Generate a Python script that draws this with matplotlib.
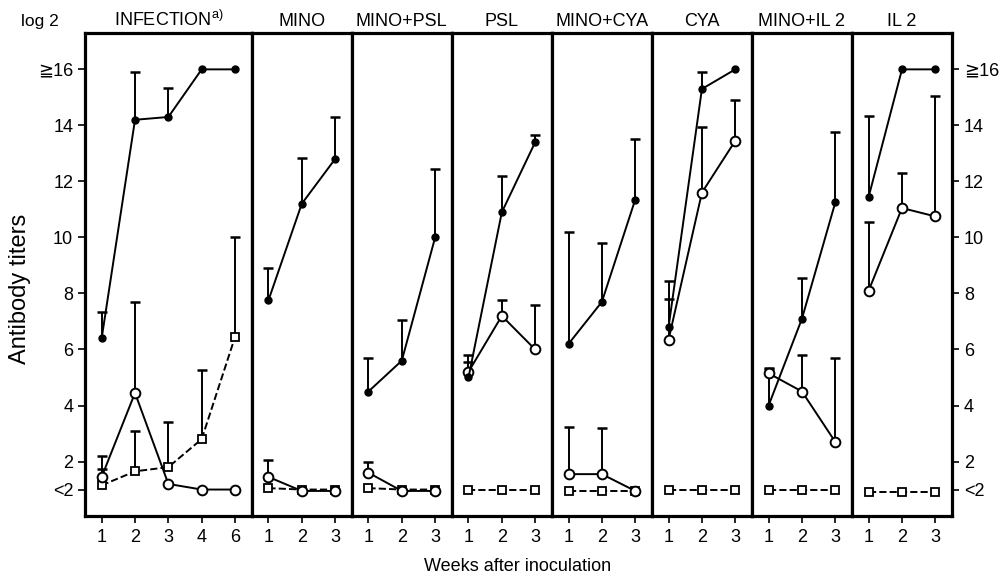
import matplotlib
matplotlib.use('Agg')
import matplotlib.pyplot as plt
import numpy as np

plt.rcParams['font.family'] = ['Liberation Sans', 'DejaVu Sans']
plt.rcParams['mathtext.default'] = 'regular'

nan = np.nan

titles = ['INFECTION$^{a)}$', 'MINO', 'MINO+PSL', 'PSL', 'MINO+CYA', 'CYA', 'MINO+IL 2', 'IL 2']
week_labels = [['1', '2', '3', '4', '6']] + [['1', '2', '3']] * 7

# filled circles
filled = [[6.4, 14.2, 14.3, 16.0, 16.0], [7.75, 11.2, 12.8], [4.5, 5.6, 10.0], [5.0, 10.9, 13.4],
          [6.2, 7.7, 11.35], [6.8, 15.3, 16.0], [4.0, 7.1, 11.25], [11.45, 16.0, 16.0]]
filled_err = [[7.35, 15.9, 15.35, nan, nan], [8.9, 12.85, 14.3], [5.7, 7.05, 12.45], [5.8, 12.2, 13.65],
              [10.2, 9.8, 13.5], [8.45, 15.9, nan], [5.35, 8.55, 13.75], [14.35, nan, nan]]
# open circles
opened = [[1.45, 4.45, 1.2, 1.0, 1.0], [1.45, 0.95, 0.95], [1.6, 0.95, 0.95], [5.2, 7.2, 6.0],
          [1.55, 1.55, 0.95], [6.35, 11.6, 13.45], [5.15, 4.5, 2.7], [8.1, 11.05, 10.75]]
opened_err = [[1.75, 7.7, nan, nan, nan], [2.05, nan, nan], [2.0, nan, nan], [5.55, 7.75, 7.6],
              [3.25, 3.2, nan], [7.8, 13.95, 14.9], [5.3, 5.8, 5.7], [10.55, 12.3, 15.05]]
# open squares (dashed)
squares = [[1.15, 1.65, 1.8, 2.8, 6.45], [1.05, 1.0, 1.0], [1.05, 1.0, 1.0], [1.0, 1.0, 1.0],
           [0.95, 0.95, 0.95], [1.0, 1.0, 1.0], [1.0, 1.0, 1.0], [0.9, 0.9, 0.9]]
squares_err = [[2.2, 3.1, 3.4, 5.25, 10.0]] + [[nan, nan, nan]] * 7

ytick_vals = [1, 2, 4, 6, 8, 10, 12, 14, 16]
ytick_labels = ['<2', '2', '4', '6', '8', '10', '12', '14', '\u226716']


def err_up(ax, x, y, top):
    for xi, yi, ti in zip(x, y, top):
        if np.isnan(ti):
            continue
        ax.vlines(xi, yi, ti, color='black', lw=1.4, zorder=2)
        ax.plot([xi], [ti], marker='_', ms=7, mew=1.8, color='black', zorder=2)


fig = plt.figure(figsize=(10.07, 5.78), dpi=100)
gs = fig.add_gridspec(1, 8, width_ratios=[len(w) for w in week_labels], wspace=0,
                      left=0.0844, right=0.9454, top=0.943, bottom=0.107)

for i in range(8):
    ax = fig.add_subplot(gs[0, i])
    n = len(week_labels[i])
    x = np.arange(1, n + 1)
    err_up(ax, x, filled[i], filled_err[i])
    err_up(ax, x, opened[i], opened_err[i])
    err_up(ax, x, squares[i], squares_err[i])
    ax.plot(x, squares[i], '--', color='black', lw=1.4, marker='s', ms=6,
            mfc='white', mec='black', mew=1.3, zorder=3)
    ax.plot(x, opened[i], '-', color='black', lw=1.4, marker='o', ms=7,
            mfc='white', mec='black', mew=1.4, zorder=4)
    ax.plot(x, filled[i], '-', color='black', lw=1.4, marker='o', ms=5,
            mfc='black', mec='black', zorder=5)
    ax.set_xlim(0.5, n + 0.5)
    ax.set_ylim(0.05, 17.3)
    ax.set_xticks(x)
    ax.set_xticklabels(week_labels[i], fontsize=13)
    ax.tick_params(axis='x', direction='out', length=5, width=1.2, pad=4)
    for s in ax.spines.values():
        s.set_linewidth(2.3)
    ax.set_title(titles[i], fontsize=13, pad=5)
    if i == 0 or i == 7:
        if i == 7:
            ax.yaxis.tick_right()
        ax.set_yticks(ytick_vals)
        ax.set_yticklabels(ytick_labels, fontsize=13)
        ax.tick_params(axis='y', direction='out', length=5, width=1.2)
    else:
        ax.set_yticks([])

fig.text(0.04, 0.962, 'log 2', ha='center', va='center', fontsize=12.5)
fig.text(0.02, 0.5, 'Antibody titers', rotation=90, ha='center', va='center', fontsize=17)
fig.text(0.514, 0.02, 'Weeks after inoculation', ha='center', va='center', fontsize=13)

fig.savefig('out.png', dpi=100)
